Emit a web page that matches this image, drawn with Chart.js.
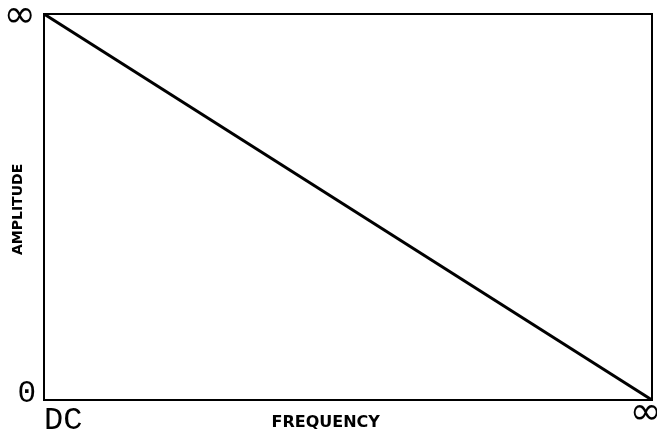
<!DOCTYPE html>
<html>
<head>
<meta charset="utf-8">
<script src="https://cdn.jsdelivr.net/npm/chart.js@4/dist/chart.umd.min.js"></script>
<style>
  html, body { margin: 0; padding: 0; background: #ffffff; }
  #wrap { width: 657px; height: 432px; }
</style>
</head>
<body>
<div id="wrap"><canvas id="c" width="657" height="432"></canvas></div>
<script>
// ---- data ----
const frequency = [0, 1];          // normalized: DC ... infinity
const amplitude = [1, 0];          // normalized: infinity ... 0
const xTickValues = [0, 1];
const xTickLabels = ['DC', '\u221E'];
const yTickValues = [0, 1];
const yTickLabels = ['0', '\u221E'];
const xTitle = 'FREQUENCY';
const yTitle = 'AMPLITUDE';

const points = frequency.map((f, i) => ({ x: f, y: amplitude[i] }));

const monoFont = "'Liberation Mono', 'DejaVu Sans Mono', monospace";
const symFont = "'DejaVu Sans', sans-serif";
const titleFont = "'DejaVu Sans', sans-serif";

function setTicks(values) {
  return function (scale) {
    scale.ticks = values.map(v => ({ value: v }));
  };
}

const frame = { display: true, color: '#000000', width: 2 };

new Chart(document.getElementById('c'), {
  type: 'line',
  data: {
    datasets: [{
      data: points,
      borderColor: '#000000',
      borderWidth: 3,
      pointRadius: 0,
      tension: 0,
      fill: false
    }]
  },
  options: {
    responsive: false,
    animation: false,
    devicePixelRatio: 1,
    layout: { padding: 0 },
    plugins: { legend: { display: false }, tooltip: { enabled: false } },
    scales: {
      x: {
        type: 'linear',
        position: 'bottom',
        min: 0,
        max: 1,
        grid: { display: false, drawTicks: false },
        border: frame,
        afterBuildTicks: setTicks(xTickValues),
        afterFit: function (scale) {
          scale.height = 32;
          scale.paddingLeft = 0;
          scale.paddingRight = 0;
        },
        ticks: {
          autoSkip: false,
          maxRotation: 0,
          minRotation: 0,
          padding: 0,
          color: '#000000',
          callback: function (value) {
            const i = xTickValues.indexOf(value);
            const lab = i >= 0 ? xTickLabels[i] : '';
            return i === 0 ? '\u0020\u0020' + lab : lab + '\u0020';
          },
          font: function (ctx) {
            if (ctx.index === 0) {
              return { family: monoFont, size: 32, lineHeight: '42px' };
            }
            return { family: symFont, size: 39, lineHeight: '27px' };
          }
        },
        title: {
          display: true,
          text: xTitle + '\u0020'.repeat(8),
          color: '#000000',
          font: { family: titleFont, size: 16, weight: 'bold' },
          padding: { top: 0, bottom: 0 }
        }
      },
      y: {
        type: 'linear',
        position: 'left',
        min: 0,
        max: 1,
        grid: { display: false, drawTicks: false },
        border: frame,
        afterBuildTicks: setTicks(yTickValues),
        afterFit: function (scale) {
          scale.width = 44;
          scale.paddingTop = 0;
          scale.paddingBottom = 0;
        },
        ticks: {
          padding: 8,
          color: '#000000',
          callback: function (value) {
            const i = yTickValues.indexOf(value);
            const lab = i >= 0 ? yTickLabels[i] : '';
            return value === 0 ? [lab, ''] : ['', lab];
          },
          font: function (ctx) {
            if (ctx.tick && ctx.tick.value === 0) {
              return { family: monoFont, size: 31, lineHeight: '13px' };
            }
            return { family: symFont, size: 39, lineHeight: '5px' };
          }
        },
        title: {
          display: true,
          text: yTitle + '\u0020',
          color: '#000000',
          font: { family: titleFont, size: 14, weight: 'bold' },
          padding: { top: 10, bottom: 0 }
        }
      },
      x2: {
        type: 'linear',
        axis: 'x',
        position: 'top',
        min: 0,
        max: 1,
        grid: { display: false, drawTicks: false },
        border: frame,
        ticks: { display: false },
        afterFit: function (scale) {
          scale.height = 14;
          scale.paddingLeft = 0;
          scale.paddingRight = 0;
        }
      },
      y2: {
        type: 'linear',
        axis: 'y',
        position: 'right',
        min: 0,
        max: 1,
        grid: { display: false, drawTicks: false },
        border: frame,
        ticks: { display: false },
        afterFit: function (scale) {
          scale.width = 5;
          scale.paddingTop = 0;
          scale.paddingBottom = 0;
        }
      }
    }
  }
});
</script>
</body>
</html>
